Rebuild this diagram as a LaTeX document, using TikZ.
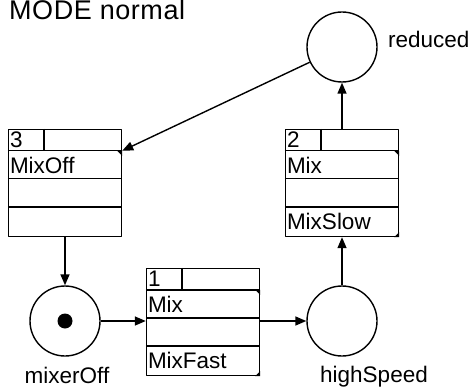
\documentclass[tikz,border=0pt]{standalone}
\usepackage{fontspec}
\setmainfont{Liberation Sans}
\usetikzlibrary{arrows.meta,calc}
\tikzset{
  place/.style={circle,draw,line width=1.4pt,minimum size=70pt,inner sep=0pt},
  tbox/.style={draw,line width=1.4pt,minimum width=113pt,minimum height=107pt,inner sep=0pt},
  arc/.style={line width=1.4pt,-{Triangle[length=11pt,width=9pt]}},
  lbl/.style={font=\fontsize{22.5}{25}\selectfont,inner sep=0pt},
}
% transition box: name, centre, number, first row, last row
\newcommand\transbox[5]{%
  \node[tbox] (#1) at (#2) {};
  \draw[line width=1.4pt] ($(#1.north west)+(0,22)$) -- ($(#1.north east)+(0,22)$)
    ($(#1.north west)+(0,50)$) -- ($(#1.north east)+(0,50)$)
    ($(#1.north west)+(0,78)$) -- ($(#1.north east)+(0,78)$)
    ($(#1.north west)+(36,0)$) -- ($(#1.north west)+(36,22)$);
  \node[lbl,anchor=base west] (#1n) at ($(#1.north west)+(2,19)$) {#3};
  \node[lbl,anchor=base west] (#1a) at ($(#1.north west)+(2,45)$) {#4};
  \node[lbl,anchor=base west] (#1c) at ($(#1.north west)+(2,101)$) {#5};
}
\begin{document}
\begin{tikzpicture}[x=1pt,y=-1pt,line join=round,>=stealth]
\useasboundingbox (0,0) rectangle (470,387);
\node[lbl,anchor=base west,font=\fontsize{27}{30}\selectfont\addfontfeature{LetterSpace=2}] (mode) at (9,20) {MODE normal};
% places
\node[place] (off) at (65,321) {};
\node[place] (high) at (342,321) {};
\node[place] (red) at (342,47) {};
\node[circle,fill,minimum size=15pt,inner sep=0pt] (tok) at (off) {};
\node[lbl,anchor=base] (offl) at ($(off)+(2,62)$) {mixerOff};
\node[lbl,anchor=base] (highl) at ($(high)+(32,61)$) {highSpeed};
\node[lbl,anchor=base west] (redl) at ($(red)+(46,1)$) {reduced};
% transitions
\transbox{t3}{65,183}{3}{MixOff}{}
\transbox{t1}{203,322}{1}{Mix}{MixFast}
\transbox{t2}{342,183}{2}{Mix}{MixSlow}
\foreach \b in {t1,t2,t3}
  \fill ($(\b.north east)+(-5,22)$) -- ($(\b.north east)+(0,22)$) -- ($(\b.north east)+(0,27)$) -- cycle;
\foreach \b in {t1,t2}
  \fill ($(\b.south east)+(-5,0)$) -- (\b.south east) -- ($(\b.south east)+(0,-5)$) -- cycle;
\coordinate (t3in) at ($(t3.north east)+(0,22)$);
% arcs
\draw[arc] (t3) -- (off);
\draw[arc] (off.east) -- (off.east -| t1.west);
\draw[arc] (t1.east |- high) -- (high);
\draw[arc] (high) -- (t2);
\draw[arc] (t2) -- (red);
\draw[arc] (red) -- (t3in);
\end{tikzpicture}
\end{document}
